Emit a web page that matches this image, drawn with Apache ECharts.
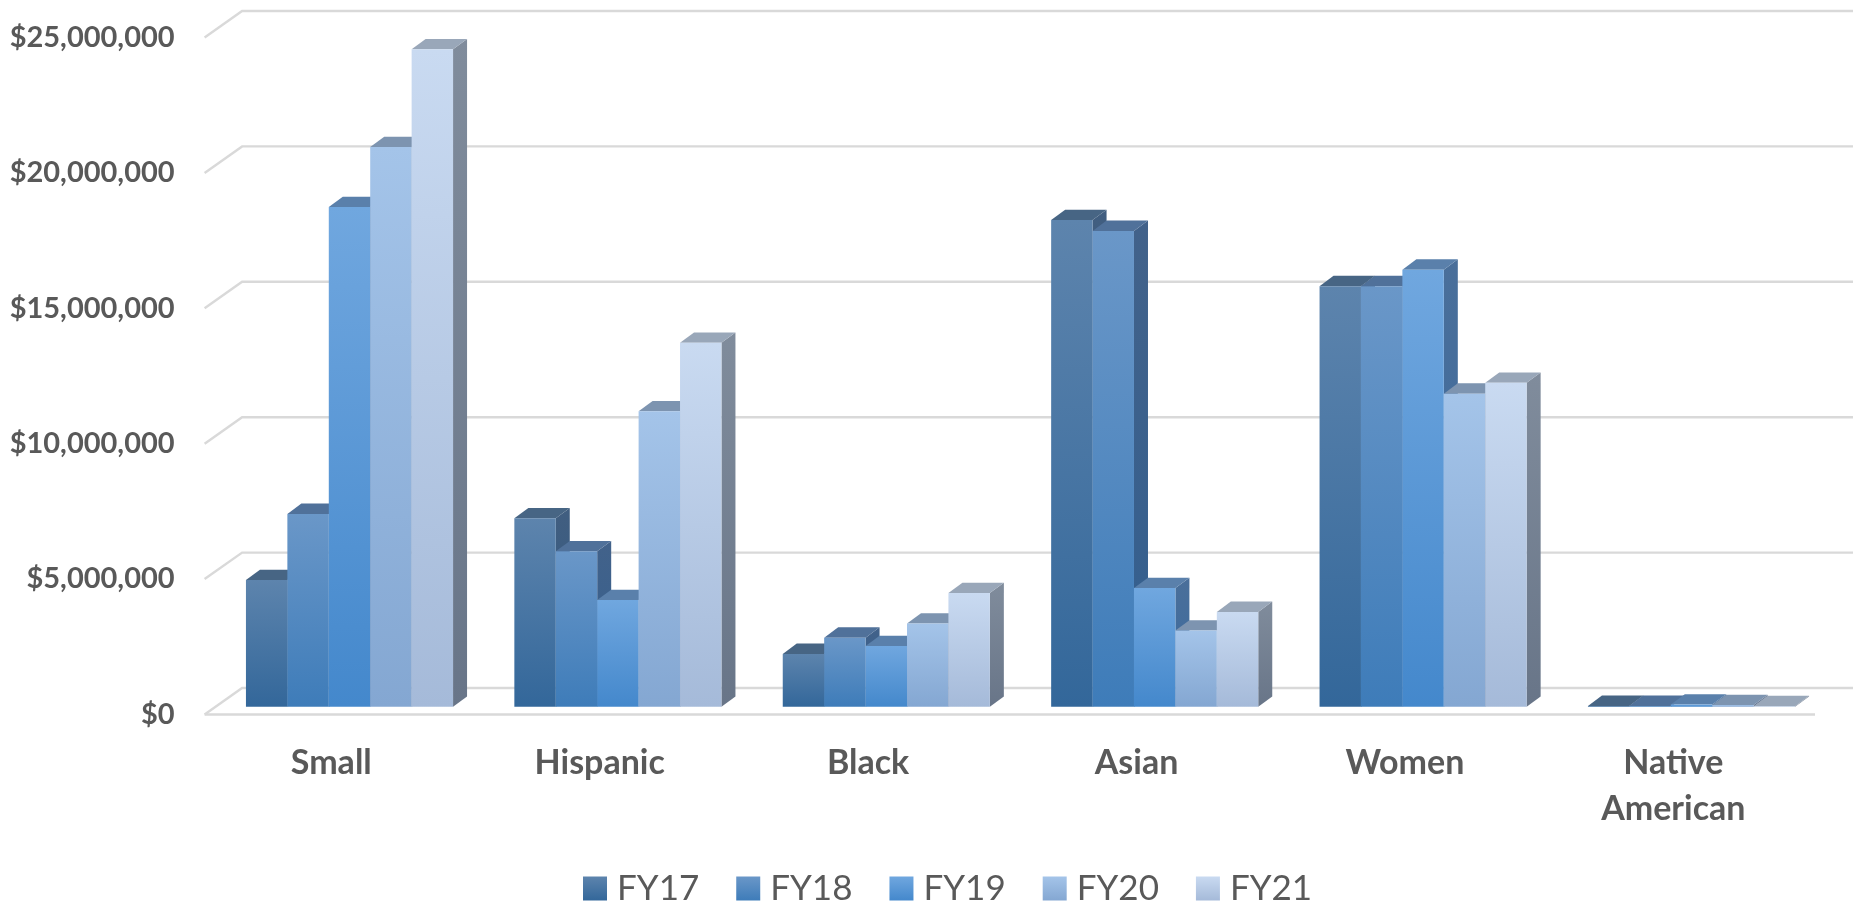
<!DOCTYPE html>
<html><head><meta charset="utf-8">
<style>html,body{margin:0;padding:0;background:#fff}#c{width:1853px;height:903px}</style>
<script src="https://cdn.jsdelivr.net/npm/echarts@6/dist/echarts.min.js"></script>
</head><body><div id="c"></div>
<script>
const categories = ['Small','Hispanic','Black','Asian','Women','Native\nAmerican'];
const seriesNames = ['FY17','FY18','FY19','FY20','FY21'];
const FY17 = [4680000,6960000,1950000,17970000,15530000,30000];
const FY18 = [7120000,5740000,2550000,17570000,15530000,30000];
const FY19 = [18450000,3940000,2240000,4380000,16140000,80000];
const FY20 = [20670000,10910000,3070000,2810000,11560000,60000];
const FY21 = [24280000,13440000,4200000,3500000,11960000,20000];
const yTicks = [0,5000000,10000000,15000000,20000000,25000000];

const frontTop = ['#5d84ad','#6a97c8','#70a7df','#a4c4e9','#c9daf1'];
const frontBottom = ['#33679a','#3e7cb9','#4488cc','#84a7d2','#a5bad9'];
const topFace = ['#476584','#50719a','#5a80ab','#7d94b0','#99a7b9'];
const sideTop = ['#415e80','#42628a','#4a6f9a','#6f8099','#808c9c'];
const sideBottom = ['#2f5a85','#335f8f','#3a6a9f','#5f7290','#687588'];

const grad = (a,b)=> new echarts.graphic.LinearGradient(0,0,0,1,[{offset:0,color:a},{offset:1,color:b}]);
const chart = echarts.init(document.getElementById('c'),null,{renderer:'canvas'});

function wallItem(params, api){
  const cs = params.coordSys;
  const p = api.coord([0, api.value(1)]);
  const y = p[1], x0 = cs.x, x1 = cs.x + cs.width;
  const pts = [[x0,y],[x0+37.5,y-26.5],[x1+38,y-26.5]];
  const kids = [{type:'polyline',shape:{points:pts},style:{stroke:'#d9d9d9',lineWidth:2.4,fill:null}}];
  if(api.value(1)===0) kids.push({type:'line',shape:{x1:x0,y1:y,x2:x1,y2:y},style:{stroke:'#d9d9d9',lineWidth:2.4}});
  return {type:'group',children:kids};
}
function barItem(idx){
  return function(params, api){
    const band = api.size([1,0])[0];
    const w = band/6.48, dx = 14, dy = 10.3, ox = 10.7, oy = 7.8;
    const c = api.coord([api.value(0), api.value(1)]);
    const b = api.coord([api.value(0), 0]);
    const l = c[0] + ox + (idx-2.5)*w, r = l + w;
    const t = c[1] - oy, bt = b[1] - oy;
    return {type:'group',children:[
      {type:'polygon',shape:{points:[[r,t],[r+dx,t-dy],[r+dx,bt-dy],[r,bt]]},style:{fill:grad(sideTop[idx],sideBottom[idx])}},
      {type:'polygon',shape:{points:[[l,t],[l+dx,t-dy],[r+dx,t-dy],[r,t]]},style:{fill:topFace[idx]}},
      {type:'rect',shape:{x:l,y:t,width:w,height:bt-t},style:{fill:grad(frontTop[idx],frontBottom[idx])}}
    ]};
  };
}
const values = [FY17,FY18,FY19,FY20,FY21];
const series = [{
  type:'custom',name:'walls',renderItem:wallItem,silent:true,z:1,
  data:yTicks.map(v=>[0,v]),encode:{x:0,y:1}
}].concat(seriesNames.map((n,i)=>({
  type:'custom',name:n,renderItem:barItem(i),z:2+i,clip:false,
  itemStyle:{color:grad(frontTop[i],frontBottom[i])},
  data:values[i].map((v,k)=>[k,v]),encode:{x:0,y:1}
})));

chart.setOption({
  animation:false,backgroundColor:'#fff',
  grid:{left:204.6,width:1610.4,top:37.5,height:677,containLabel:false},
  legend:{data:seriesNames,left:583,top:871,padding:0,icon:'rect',itemWidth:24,itemHeight:24,itemGap:37,
    textStyle:{fontFamily:'Lato',fontSize:35,color:'#595959',padding:[0,0,0,5]}},
  xAxis:{type:'category',data:categories,
    axisLine:{show:false},axisTick:{show:false},splitLine:{show:false},
    axisLabel:{interval:0,margin:26,fontFamily:'Lato',fontWeight:'bold',fontSize:34,color:'#595959',lineHeight:46,padding:[0,15,0,0]}},
  yAxis:{type:'value',min:0,max:25000000,interval:5000000,
    axisLine:{show:false},axisTick:{show:false},splitLine:{show:false},
    axisLabel:{margin:30,fontFamily:'Lato',fontWeight:'bold',fontSize:29,color:'#595959',
      formatter:v=>'$'+v.toLocaleString('en-US')}},
  series
});
</script></body></html>
